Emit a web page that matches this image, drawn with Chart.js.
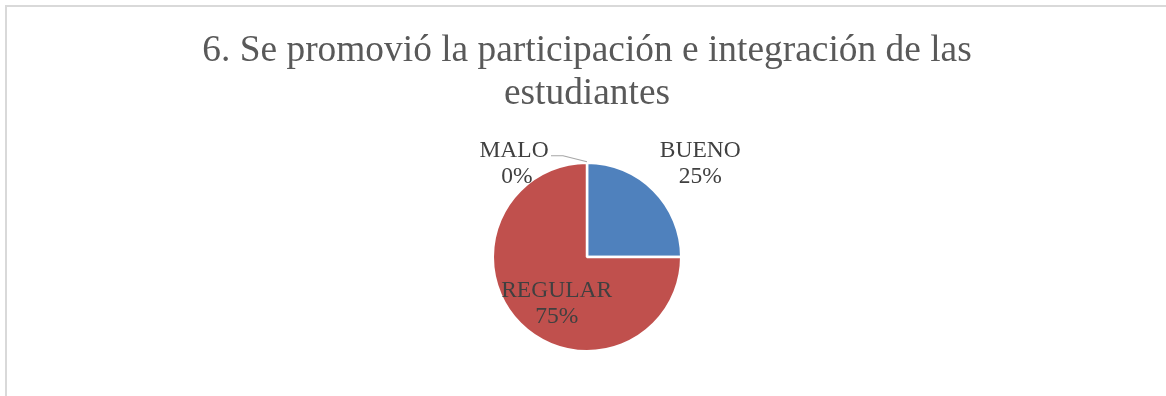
<!DOCTYPE html>
<html>
<head>
<meta charset="utf-8">
<script src="https://cdn.jsdelivr.net/npm/chart.js@4.4.1/dist/chart.umd.min.js"></script>
<style>
  html, body { margin: 0; padding: 0; background: #ffffff; }
  #wrap { position: relative; width: 1166px; height: 396px; }
</style>
</head>
<body>
<div id="wrap"><canvas id="c" width="1166" height="396"></canvas></div>
<script>
// Survey answers for question 6
const categories = ['BUENO', 'REGULAR', 'MALO'];
const percentages = [25, 75, 0];
const sliceColors = ['#4F81BD', '#C0504D', '#9BBB59'];
const titleLines = ['6. Se promovió la participación e integración de las', 'estudiantes'];

const SERIF = '"Liberation Serif", "Times New Roman", serif';

// Placement of each data label: radial factor of the outer radius along the slice's
// middle angle, plus a small nudge in pixels; "leader" draws a connector line.
const labelPlacement = {
  BUENO:   { k: 1.55, dx: 10, dy: 10 },
  REGULAR: { k: 0.50, dx: 3,  dy: 13 },
  MALO:    { k: 1.00, dx: -73, dy: 1, leader: true }
};

const framePlugin = {
  id: 'frame',
  beforeDraw(chart) {
    const ctx = chart.ctx;
    ctx.save();
    ctx.fillStyle = '#ffffff';
    ctx.fillRect(0, 0, chart.width, chart.height);
    ctx.strokeStyle = '#d9d9d9';
    ctx.lineWidth = 2;
    ctx.strokeRect(6, 6, chart.width + 20, chart.height + 20);
    ctx.restore();
  }
};

const sliceLabels = {
  id: 'sliceLabels',
  afterDatasetsDraw(chart) {
    const ctx = chart.ctx;
    const meta = chart.getDatasetMeta(0);
    ctx.save();
    ctx.font = '23.5px ' + SERIF;
    ctx.fillStyle = '#404040';
    ctx.textAlign = 'center';
    ctx.textBaseline = 'middle';
    meta.data.forEach((arc, i) => {
      const p = arc.getProps(['x', 'y', 'startAngle', 'endAngle', 'outerRadius'], true);
      const name = categories[i];
      const place = labelPlacement[name];
      const mid = (p.startAngle + p.endAngle) / 2;
      const ax = p.x + Math.cos(mid) * p.outerRadius * place.k;
      const ay = p.y + Math.sin(mid) * p.outerRadius * place.k;
      const cx = ax + place.dx;
      const cy = ay + place.dy;
      if (place.leader) {
        ctx.save();
        ctx.strokeStyle = '#a6a6a6';
        ctx.lineWidth = 1.2;
        ctx.beginPath();
        ctx.moveTo(ax, ay - 1);
        ctx.lineTo(ax - 24, ay - 7);
        ctx.lineTo(ax - 36, ay - 7);
        ctx.stroke();
        ctx.restore();
      }
      const value = chart.data.datasets[0].data[i];
      ctx.fillText(name, cx, cy - 13);
      ctx.fillText(value + '%', cx + (place.leader ? 3 : 0), cy + 13);
    });
    ctx.restore();
  }
};

new Chart(document.getElementById('c'), {
  type: 'pie',
  data: {
    labels: categories,
    datasets: [{
      data: percentages,
      backgroundColor: sliceColors,
      borderColor: '#ffffff',
      borderWidth: 2.5
    }]
  },
  options: {
    responsive: false,
    animation: false,
    events: [],
    layout: { padding: { left: 8, right: 0, top: 0, bottom: 43.5 } },
    plugins: {
      legend: { display: false },
      tooltip: { enabled: false },
      title: {
        display: true,
        text: titleLines,
        color: '#595959',
        font: { family: SERIF, size: 37.4, weight: 'normal', lineHeight: 1.15 },
        padding: { top: 30, bottom: 45.5 }
      }
    }
  },
  plugins: [framePlugin, sliceLabels]
});
</script>
</body>
</html>
